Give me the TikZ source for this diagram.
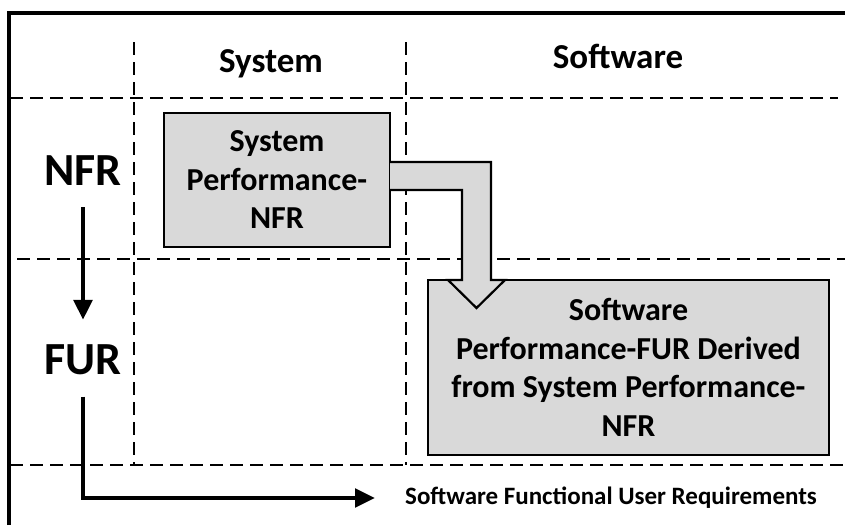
\documentclass[tikz,border=0pt]{standalone}
\usepackage{fontspec}
\setmainfont{Carlito}
\usetikzlibrary{arrows.meta}
\definecolor{boxgray}{HTML}{D9D9D9}
\begin{document}
\begin{tikzpicture}[x=1pt,y=-1pt,
  gridline/.style={line width=2.9pt, dash pattern=on 13pt off 7pt},
  frameline/.style={line width=4.5pt, line join=miter},
  boxnode/.style={draw, line width=2.2pt, fill=boxgray, align=center, inner sep=0pt,
    font=\fontsize{32}{38.5}\selectfont\bfseries},
  hdr/.style={anchor=base, inner sep=0pt, font=\fontsize{35}{40}\selectfont\bfseries},
  big/.style={anchor=base, inner sep=0pt, font=\fontsize{46}{50}\selectfont\bfseries},
  small/.style={anchor=west, inner sep=0pt, font=\fontsize{25}{28}\selectfont\bfseries},
  blackarrow/.style={line width=4.8pt, -{Triangle[length=20pt,width=18pt]}},
]
\useasboundingbox (0,0) rectangle (845,525);

% frame
\draw[frameline] (9,525) -- (9,13) -- (845,13);

% grid
\draw[gridline] (10,98) -- (838,98);
\draw[gridline] (17,259) -- (845,259);
\draw[gridline] (10,465) -- (845,465);
\draw[gridline] (134,42) -- (134,465);
\draw[gridline] (406,42) -- (406,465);

% headers
\node[hdr] (hsys) at (271,72) {System};
\node[hdr] (hsw) at (618,68) {Software};

% boxes
\node[boxnode, minimum width=226pt, minimum height=134pt] (sys) at (277,180)
  {System\\Performance-\\NFR};
\node[boxnode, minimum width=401pt, minimum height=175pt] (sw) at (628.5,367.5)
  {Software\\Performance-FUR Derived\\from System Performance-\\NFR};

% bent block arrow
\fill[boxgray] (390,162) -- (491,162) -- (491,280) -- (505,280) -- (476.5,308)
  -- (448,280) -- (462,280) -- (462,190) -- (390,190) -- cycle;
\draw[line width=2.2pt, line join=miter] (390,162) -- (491,162) -- (491,280) -- (505,280) -- (476.5,308)
  -- (448,280) -- (462,280) -- (462,190) -- (390,190);

% left labels and arrows
\node[big] (nfr) at (83,185) {NFR};
\node[big] (fur) at (83,374) {FUR};
\node[small] (req) at (405,498) {Software Functional User Requirements};

\draw[blackarrow] ([yshift=-22pt]nfr.south) -- ([yshift=24pt]fur.north);
\draw[blackarrow, shorten >=30pt] ([yshift=-22pt]fur.south) |- (req.west);
\end{tikzpicture}
\end{document}
